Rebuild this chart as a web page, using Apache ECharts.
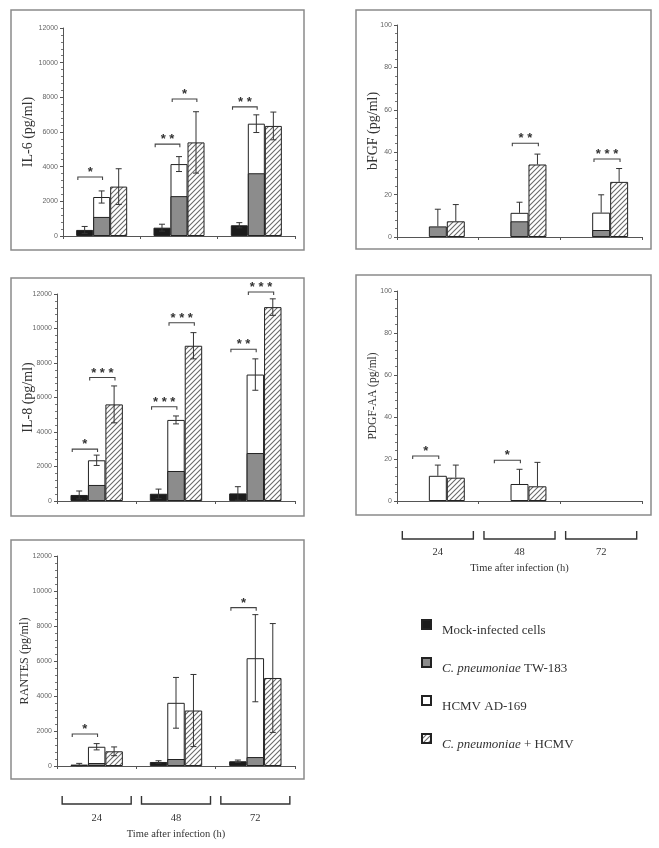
<!DOCTYPE html>
<html><head><meta charset="utf-8">
<script src="https://cdn.jsdelivr.net/npm/echarts@6/dist/echarts.min.js"></script>
<style>html,body{margin:0;padding:0;background:#fff}#c{width:659px;height:848px}</style>
</head><body><div id="c"></div>
<script>
// ---------------- DATA ----------------
const categories = ['24', '48', '72'];
const seriesNames = ['Mock-infected cells', 'C. pneumoniae TW-183', 'HCMV AD-169', 'C. pneumoniae + HCMV'];
const xTitle = 'Time after infection (h)';

// IL-6 (pg/ml)
const il6Mock = [350, 480, 620];
const il6MockErr = [200, 200, 150];
const il6Cpn = [1100, 2300, 3620];
const il6CpnErr = [null, null, null];
const il6Hcmv = [2250, 4150, 6480];
const il6HcmvErr = [350, 430, 510];
const il6Combo = [2850, 5400, 6350];
const il6ComboErr = [1030, 1770, 800];
// significance: [category, level, pair (0 = mock vs HCMV, 1 = HCMV vs combo), stars]
const il6Sig = [[0, 3400, 0, 1], [1, 5300, 0, 2], [1, 7900, 1, 1], [2, 7450, 0, 2]];

// bFGF (pg/ml)
const bfgfMock = [0, 0, 0];
const bfgfMockErr = [null, null, null];
const bfgfCpn = [5.0, 7.4, 3.3];
const bfgfCpnErr = [8.1, null, null];
const bfgfHcmv = [0, 11.4, 11.5];
const bfgfHcmvErr = [null, 5.0, 8.4];
const bfgfCombo = [7.4, 34.2, 26.0];
const bfgfComboErr = [7.9, 4.9, 6.3];
const bfgfSig = [[1, 44.2, 1, 2], [2, 36.8, 1, 3]];

// IL-8 (pg/ml)
const il8Mock = [350, 420, 440];
const il8MockErr = [230, 270, 390];
const il8Cpn = [930, 1740, 2780];
const il8CpnErr = [null, null, null];
const il8Hcmv = [2360, 4700, 7330];
const il8HcmvErr = [300, 230, 910];
const il8Combo = [5600, 9000, 11240];
const il8ComboErr = [1070, 760, 480];
const il8Sig = [[0, 3010, 0, 1], [0, 7160, 1, 3], [1, 5460, 0, 3], [1, 10330, 1, 3], [2, 8800, 0, 2], [2, 12120, 1, 3]];

// PDGF-AA (pg/ml)
const pdgfMock = [0, 0, 0];
const pdgfMockErr = [null, null, null];
const pdgfCpn = [0, 0, 0];
const pdgfCpnErr = [null, null, null];
const pdgfHcmv = [12.0, 8.1, 0];
const pdgfHcmvErr = [5.1, 7.0, null];
const pdgfCombo = [11.1, 7.0, 0];
const pdgfComboErr = [6.0, 11.4, null];
const pdgfSig = [[0, 21.4, 0, 1], [1, 19.4, 0, 1]];

// RANTES (pg/ml)
const rantesMock = [80, 230, 270];
const rantesMockErr = [70, 70, 70];
const rantesCpn = [170, 400, 510];
const rantesCpnErr = [null, null, null];
const rantesHcmv = [1100, 3610, 6160];
const rantesHcmvErr = [180, 1450, 2490];
const rantesCombo = [840, 3170, 5030];
const rantesComboErr = [250, 2060, 3110];
const rantesSig = [[0, 1830, 0, 1], [2, 9050, 0, 1]];

// ---------------- PANELS (layout/style) ----------------
const panels = [
  {name: 'IL-6 (pg/ml)', max: 12000, interval: 2000, both: true, bottom: false,
   grid: {left: 63, top: 28, width: 232, height: 208}, box: [11, 10, 293, 240], nameGap: 28, nameSize: 14,
   d: [il6Mock, il6Cpn, il6Hcmv, il6Combo], e: [il6MockErr, il6CpnErr, il6HcmvErr, il6ComboErr], sig: il6Sig},
  {name: 'bFGF (pg/ml)', max: 100, interval: 20, both: false, bottom: false,
   grid: {left: 397, top: 25, width: 245, height: 212}, box: [356, 10, 295, 239], nameGap: 17, nameSize: 14,
   d: [bfgfMock, bfgfCpn, bfgfHcmv, bfgfCombo], e: [bfgfMockErr, bfgfCpnErr, bfgfHcmvErr, bfgfComboErr], sig: bfgfSig},
  {name: 'IL-8 (pg/ml)', max: 12000, interval: 2000, both: true, bottom: false,
   grid: {left: 57, top: 294, width: 238, height: 207}, box: [11, 278, 293, 238], nameGap: 22, nameSize: 14,
   d: [il8Mock, il8Cpn, il8Hcmv, il8Combo], e: [il8MockErr, il8CpnErr, il8HcmvErr, il8ComboErr], sig: il8Sig},
  {name: 'PDGF-AA (pg/ml)', max: 100, interval: 20, both: false, bottom: true, labelMargin: 46, titleGap: 62,
   grid: {left: 397, top: 291, width: 245, height: 210}, box: [356, 275, 295, 240], nameGap: 18, nameSize: 11.5,
   d: [pdgfMock, pdgfCpn, pdgfHcmv, pdgfCombo], e: [pdgfMockErr, pdgfCpnErr, pdgfHcmvErr, pdgfComboErr], sig: pdgfSig},
  {name: 'RANTES (pg/ml)', max: 12000, interval: 2000, both: true, bottom: true, labelMargin: 47, titleGap: 63,
   grid: {left: 57, top: 556, width: 238, height: 210}, box: [11, 540, 293, 239], nameGap: 26, nameSize: 12.2,
   d: [rantesMock, rantesCpn, rantesHcmv, rantesCombo], e: [rantesMockErr, rantesCpnErr, rantesHcmvErr, rantesComboErr], sig: rantesSig}
];

// hatch pattern
const pc = document.createElement('canvas');
pc.width = 5; pc.height = 5;
const pctx = pc.getContext('2d');
pctx.fillStyle = '#fff'; pctx.fillRect(0, 0, 5, 5);
pctx.strokeStyle = '#6a6a6a'; pctx.lineWidth = 1.1;
pctx.beginPath();
pctx.moveTo(0, 5); pctx.lineTo(5, 0);
pctx.moveTo(-1, 1); pctx.lineTo(1, -1);
pctx.moveTo(4, 6); pctx.lineTo(6, 4);
pctx.stroke();
const hatch = {image: pc, repeat: 'repeat'};

const BAR = 0.22; // bar width fraction of category
const serif = 'Liberation Serif';
const sans = 'Liberation Sans';
const fills = ['#1b1b1b', '#8c8c8c', '#ffffff', hatch];
const offsets = [-1, 0, 0, 1];

const grids = [], xAxes = [], yAxes = [], series = [], graphics = [];

panels.forEach((p, g) => {
  grids.push(Object.assign({containLabel: false}, p.grid));
  graphics.push({type: 'rect', silent: true, z: 0,
    shape: {x: p.box[0], y: p.box[1], width: p.box[2], height: p.box[3]},
    style: {fill: 'none', stroke: '#8a8a8a', lineWidth: 1.5}});
  xAxes.push({
    type: 'category', gridIndex: g, data: categories,
    axisLine: {lineStyle: {color: '#555', width: 1}},
    axisTick: {show: true, length: 3, lineStyle: {color: '#555'}},
    axisLabel: {show: p.bottom, margin: p.labelMargin || 45, fontFamily: serif, fontSize: 10.5, color: '#333'},
    name: p.bottom ? xTitle : '', nameLocation: 'middle', nameGap: p.titleGap || 63, nameMoveOverlap: false,
    nameTextStyle: {fontFamily: serif, fontSize: 10.5, color: '#333'}
  });
  xAxes.push({type: 'category', gridIndex: g, data: categories, show: false});
  yAxes.push({
    type: 'value', gridIndex: g, min: 0, max: p.max, interval: p.interval,
    name: p.name, nameLocation: 'middle', nameGap: p.nameGap, nameMoveOverlap: false,
    nameTextStyle: {fontFamily: serif, fontSize: p.nameSize, color: '#333'},
    axisLine: {show: true, lineStyle: {color: '#555', width: 1}},
    axisTick: {show: true, length: 3, lineStyle: {color: '#555'}},
    minorTick: {show: true, splitNumber: 5, length: 2, lineStyle: {color: '#777'}},
    axisLabel: {fontSize: 7, color: '#666', margin: 5, fontFamily: sans, formatter: v => String(v)},
    splitLine: {show: false}
  });
  [0, 1, 3, 2].forEach(k => {
    series.push({
      name: seriesNames[k], type: 'bar',
      xAxisIndex: k === 2 ? 2 * g + 1 : 2 * g, yAxisIndex: g,
      data: p.d[k].map(v => (v === 0 ? '-' : v)), barWidth: (BAR * 100) + '%', barGap: '0%',
      itemStyle: {color: fills[k], borderColor: '#222', borderWidth: 1},
      z: k === 2 ? 2 : 3, silent: true, animation: false
    });
  });
  // error bars
  const rows = [];
  for (let k = 0; k < 4; k++) {
    for (let i = 0; i < categories.length; i++) {
      const v = p.d[k][i], e = p.e[k][i];
      if (e == null) continue;
      rows.push([i, p.both ? Math.max(0, v - e) : v, v + e, offsets[k], p.both ? 1 : 0]);
    }
  }
  series.push({
    type: 'custom', xAxisIndex: 2 * g, yAxisIndex: g, z: 6, silent: true, animation: false,
    data: rows, encode: {x: 0, y: [1, 2]},
    renderItem: (params, api) => {
      const cat = api.value(0), lo = api.value(1), hi = api.value(2), off = api.value(3), both = api.value(4);
      const bw = api.size([1, 0])[0] * BAR;
      const pl = api.coord([cat, lo]), ph = api.coord([cat, hi]);
      const x = pl[0] + off * bw, c = 3;
      const st = {stroke: '#333', lineWidth: 1};
      const ch = [
        {type: 'line', shape: {x1: x, y1: pl[1], x2: x, y2: ph[1]}, style: st},
        {type: 'line', shape: {x1: x - c, y1: ph[1], x2: x + c, y2: ph[1]}, style: st}
      ];
      if (both) ch.push({type: 'line', shape: {x1: x - c, y1: pl[1], x2: x + c, y2: pl[1]}, style: st});
      return {type: 'group', children: ch};
    }
  });
  // significance brackets
  series.push({
    type: 'custom', xAxisIndex: 2 * g, yAxisIndex: g, z: 7, silent: true, animation: false, clip: false,
    data: p.sig, encode: {x: 0, y: 1},
    renderItem: (params, api) => {
      const cat = api.value(0), lvl = api.value(1), pair = api.value(2), n = api.value(3);
      const bw = api.size([1, 0])[0] * BAR;
      const pt = api.coord([cat, lvl]);
      const x1 = pair ? pt[0] - 0.4 * bw : pt[0] - 1.4 * bw;
      const x2 = pair ? pt[0] + 1.05 * bw : pt[0] + 0.05 * bw;
      const y = pt[1];
      const stars = '*'.repeat(n).split('').join(' ');
      return {type: 'group', children: [
        {type: 'polyline', shape: {points: [[x1, y + 3], [x1, y], [x2, y], [x2, y + 3]]},
         style: {stroke: '#444', lineWidth: 1.1, fill: 'none'}},
        {type: 'text', style: {text: stars, x: (x1 + x2) / 2, y: y + 2,
          textAlign: 'center', align: 'center', textVerticalAlign: 'bottom', verticalAlign: 'bottom',
          fontSize: 13, fontWeight: 'bold', fontFamily: sans, fill: '#333'}}
      ]};
    }
  });
  // time brackets under the bottom panels
  if (p.bottom) {
    series.push({
      type: 'custom', xAxisIndex: 2 * g, yAxisIndex: g, z: 7, silent: true, animation: false, clip: false,
      data: categories.map((c, i) => [i, 0]), encode: {x: 0, y: 1},
      renderItem: (params, api) => {
        const cat = api.value(0);
        const w = api.size([1, 0])[0] * 0.87;
        const pt = api.coord([cat, 0]);
        const x1 = pt[0] - w / 2, x2 = pt[0] + w / 2, y = pt[1];
        return {type: 'polyline', shape: {points: [[x1, y + 30], [x1, y + 38], [x2, y + 38], [x2, y + 30]]},
          style: {stroke: '#333', lineWidth: 1.4, fill: 'none'}};
      }
    });
  }
});

const chart = echarts.init(document.getElementById('c'), null, {renderer: 'canvas'});
chart.setOption({
  animation: false,
  backgroundColor: '#fff',
  grid: grids, xAxis: xAxes, yAxis: yAxes, series: series, graphic: graphics,
  legend: {
    data: seriesNames, orient: 'vertical', left: 416, top: 614, selectedMode: false,
    itemWidth: 9, itemHeight: 9, itemGap: 20, icon: 'rect',
    textStyle: {fontFamily: serif, fontSize: 13, color: '#333', padding: [12, 0, 0, 6],
      rich: {i: {fontFamily: serif, fontSize: 13, fontStyle: 'italic', color: '#333'}}},
    formatter: name => name.indexOf('C. pneumoniae') === 0 ? '{i|C. pneumoniae}' + name.slice(13) : name
  }
});
</script></body></html>
